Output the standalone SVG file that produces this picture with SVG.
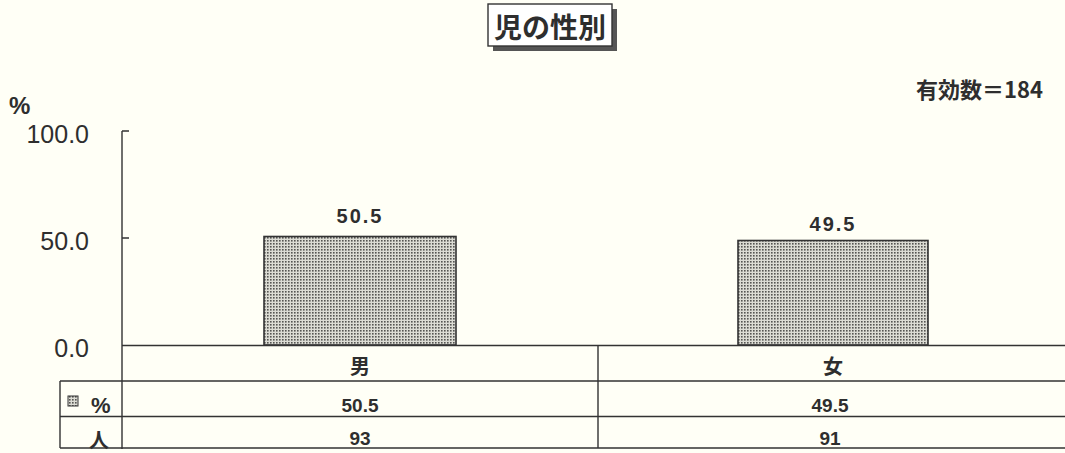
<svg xmlns="http://www.w3.org/2000/svg" width="1065" height="453" viewBox="0 0 1065 453">
<defs>
<pattern id="dots" width="3" height="3" patternUnits="userSpaceOnUse">
<rect width="3" height="3" fill="#dcdcd4"/>
<rect x="0" y="0" width="1.6" height="1.6" fill="#555552"/>
</pattern>
</defs>
<style>
.t{font-family:"Liberation Sans","Noto Sans CJK JP",sans-serif;fill:#2e2e2e}
.j{font-family:"Noto Sans CJK JP","Liberation Sans",sans-serif;fill:#2e2e2e}
.ln{stroke:#333;stroke-width:1.4;fill:none}
.bar{fill:url(#dots);stroke:#333;stroke-width:1.6}
</style>
<rect width="1065" height="453" fill="#fffff6"/>
<g id="title">
<rect x="493" y="9" width="124" height="42" fill="#555"/>
<rect x="488" y="4" width="124" height="42" fill="#ffffff" stroke="#333" stroke-width="1.4"/>
<text class="j" x="550" y="38" font-size="28" font-weight="600" text-anchor="middle">児の性別</text>
</g>
<g id="count"><text class="j" x="1043" y="98" font-size="22" font-weight="bold" text-anchor="end">有効数＝184</text></g>
<g id="axis">
<text class="t" x="9" y="114" font-size="24" font-weight="bold">%</text>
<text class="t" x="89" y="143" font-size="25" text-anchor="end">100.0</text>
<text class="t" x="89" y="250" font-size="25" text-anchor="end">50.0</text>
<text class="t" x="89" y="357" font-size="25" text-anchor="end">0.0</text>
<path class="ln" d="M122 131V449M122 131H129M122 238H129"/>
</g>
<g id="bar-male">
<rect class="bar" x="264" y="236.5" width="192" height="108.5"/>
<text class="t" x="360" y="223" font-size="20" font-weight="bold" text-anchor="middle" letter-spacing="2">50.5</text>
</g>
<g id="bar-female">
<rect class="bar" x="738" y="240.5" width="190" height="104.5"/>
<text class="t" x="833" y="231" font-size="20" font-weight="bold" text-anchor="middle" letter-spacing="2">49.5</text>
</g>
<g id="table">
<path class="ln" d="M122 345.5H1065M60 381H1065M60 416.5H1065M60 448H1065M60 381V448M598 345.5V448"/>
<text class="j" x="360" y="374" font-size="20" font-weight="bold" text-anchor="middle">男</text>
<text class="j" x="833" y="374" font-size="20" font-weight="bold" text-anchor="middle">女</text>
<rect x="68" y="396" width="10" height="10" fill="url(#dots)" stroke="#333" stroke-width="1"/>
<text class="t" x="91" y="413" font-size="22" font-weight="bold">%</text>
<text class="j" x="89" y="448" font-size="20" font-weight="bold">人</text>
<text class="t" x="360" y="412" font-size="19" font-weight="bold" text-anchor="middle">50.5</text>
<text class="t" x="830" y="412" font-size="19" font-weight="bold" text-anchor="middle">49.5</text>
<text class="t" x="360" y="445" font-size="19" font-weight="bold" text-anchor="middle">93</text>
<text class="t" x="830" y="445" font-size="19" font-weight="bold" text-anchor="middle">91</text>
</g>
</svg>
